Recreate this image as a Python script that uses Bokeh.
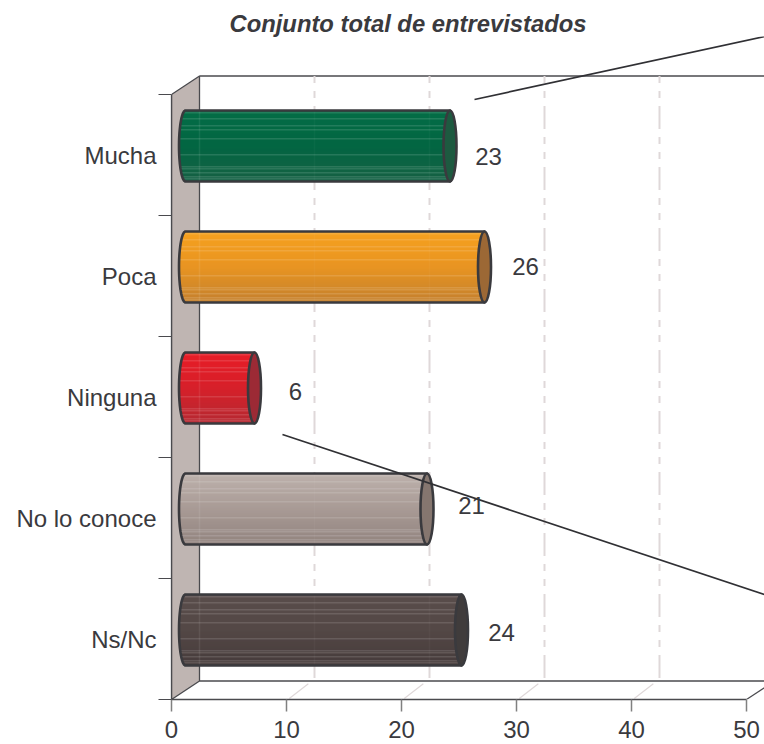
import numpy as np
from bokeh.plotting import figure
from bokeh.models import FixedTicker, LinearAxis, Range1d, ColumnDataSource
from bokeh.core.properties import value
from bokeh.embed import file_html
from bokeh.resources import INLINE

# --- data ---
categories = ["Ns/Nc", "No lo conoce", "Ninguna", "Poca", "Mucha"]
values = [24, 21, 6, 26, 23]
x_ticks = [0, 10, 20, 30, 40, 50]
title_text = "Conjunto total de entrevistados"

# --- style ---
top_colors = [(92, 80, 78), (196, 185, 180), (238, 28, 38), (250, 165, 30), (5, 112, 72)]
mid_colors = [(84, 72, 70), (168, 154, 149), (214, 32, 42), (232, 148, 34), (2, 102, 66)]
bot_colors = [(66, 56, 56), (138, 124, 120), (170, 44, 52), (184, 122, 50), (30, 96, 70)]
cap_colors = ["#403c3c", "#85766f", "#9c2a35", "#9c6835", "#1d5a40"]
label_dx_px = [40, 44.5, 41, 41, 38.5]
label_dy_px = [-2.5, 3.5, -3.5, 0.5, -10.5]
highlight = [.04, .12, .22, .28, .40, .62, .79, .83, .88, .93, .97]

PX_X = 11.5      # px per x unit
PX_Y = 121.0     # px per category
DEPTH_X = 28 / PX_X
DEPTH_Y = 18.5 / PX_Y
INK = "#3a3a3e"
FONT = "Liberation Sans"
WALL = "#bfb5b2"
GRID = "#dfd8d9"

W, H = 764, 744
FRAME_L, FRAME_B = 171, 45
FRAME_T = 36

p = figure(width=W, height=H, output_backend="svg", toolbar_location=None,
           x_range=Range1d(0, (W - FRAME_L) / PX_X),
           y_range=Range1d(0, (H - FRAME_B - FRAME_T) / PX_Y),
           x_axis_type=None, y_axis_type=None,
           min_border_left=FRAME_L, min_border_right=0,
           min_border_top=FRAME_T, min_border_bottom=FRAME_B)
p.outline_line_color = None
p.grid.visible = False
p.background_fill_color = "white"

# title
p.title.text = title_text
p.title.align = "left"
p.title.offset = 58
p.title.text_font = FONT
p.title.text_font_size = "23.8px"
p.title.text_font_style = "bold italic"
p.title.text_color = INK
p.title.standoff = 0

n = len(categories)
xmax = x_ticks[-1]

# left wall + back frame
p.patch([0, DEPTH_X, DEPTH_X, 0], [n, n + DEPTH_Y, DEPTH_Y, 0],
        fill_color=WALL, line_color="#4a4a4e", line_width=1.3)
xr_end = p.x_range.end
p.segment([DEPTH_X, DEPTH_X], [n + DEPTH_Y, DEPTH_Y], [xr_end, xr_end], [n + DEPTH_Y, DEPTH_Y],
          line_color="#4a4a4e", line_width=1.3)

# back gridlines and floor marks
gx = np.array(x_ticks[1:-1], dtype=float)
p.segment(gx + DEPTH_X, [n + DEPTH_Y] * len(gx), gx + DEPTH_X, [DEPTH_Y] * len(gx),
          line_color=GRID, line_width=2, line_dash="7 8 7 8 23 8")
p.segment(gx + DEPTH_X * .1, [DEPTH_Y * .05] * len(gx), gx + DEPTH_X * .78, [DEPTH_Y * .85] * len(gx),
          line_color=GRID, line_width=1.2)
p.segment([xmax], [0], [xr_end], [(xr_end - xmax) / DEPTH_X * DEPTH_Y], line_color="#4a4a4e", line_width=1.2)

# cylinders
ROWS = 71
half_h = ROWS / 2 / PX_Y
a = 6.5 / PX_X
theta = np.linspace(-np.pi / 2, np.pi / 2, 40)
for i, v in enumerate(values):
    cy = i + 0.5 + 9 / PX_Y
    x0 = 14 / PX_X
    x1 = x0 + v
    t = np.arange(ROWS) / ROWS          # from top down
    tm = (t + .5 / ROWS)
    rel = np.abs(2 * tm - 1)
    left = x0 - a * np.sqrt(np.clip(1 - rel ** 2, 0, 1))
    right = np.full(ROWS, x1)
    tops = cy + half_h - t * ROWS / PX_Y
    bots = tops - 1.0 / PX_Y
    hi_rows = {int(h * ROWS) for h in highlight}
    cols = []
    for r in range(ROWS):
        f = tm[r]
        if f < .5:
            c = np.array(top_colors[i]) + (np.array(mid_colors[i]) - np.array(top_colors[i])) * (f / .5)
        else:
            c = np.array(mid_colors[i]) + (np.array(bot_colors[i]) - np.array(mid_colors[i])) * ((f - .5) / .5)
        if r in hi_rows:
            c = c + (255 - c) * .25
        cols.append("#%02x%02x%02x" % tuple(int(round(q)) for q in c))
    ox = np.concatenate([x0 - a * np.cos(theta), [x1, x1]])
    oy = np.concatenate([cy + half_h * np.sin(theta), [cy + half_h, cy - half_h]])
    # opaque body under the stripes, so that no white shows through their seams
    base = "#%02x%02x%02x" % mid_colors[i]
    p.patch(ox, oy, fill_color=base, line_color=None)
    p.quad(left=left, right=right, top=tops, bottom=bots, fill_color=cols, fill_alpha=1.0, line_color=None)
    # wall edge and gridlines seen through the bar
    p.segment([DEPTH_X], [cy + half_h], [DEPTH_X], [cy - half_h], line_color="white", line_alpha=.08, line_width=1.5)
    gv = gx[gx + DEPTH_X < x1]
    p.segment(gv + DEPTH_X, [cy + half_h] * len(gv), gv + DEPTH_X, [cy - half_h] * len(gv),
              line_color="white", line_alpha=.03, line_width=1.5)
    p.patch(ox, oy, fill_color=None, line_color=INK, line_width=2.6, line_join="round")
    p.ellipse([x1], [cy], width=[2 * a], height=[2 * half_h], fill_color=cap_colors[i],
              line_color=INK, line_width=2.6)

# leader lines
leader_x0 = [26.35, 9.65]
leader_y0 = [4.959, 2.19]
leader_x1 = [51.57, 51.57]
leader_y1 = [5.479, 0.868]
p.segment(leader_x0, leader_y0, leader_x1, leader_y1, line_color="#303034", line_width=1.7)

# value labels
lx = [14 / PX_X + v + d / PX_X for v, d in zip(values, label_dx_px)]
ly = [i + 0.5 + 9 / PX_Y + d / PX_Y for i, d in enumerate(label_dy_px)]
src = ColumnDataSource(dict(x=lx, y=ly, t=[str(v) for v in values]))
p.text("x", "y", text="t", source=src, text_align="center", text_baseline="middle",
       text_font=value(FONT), text_font_size="24px", text_color=INK)

# axes
xa = LinearAxis(ticker=FixedTicker(ticks=x_ticks), bounds=(0, xmax))
xa.major_tick_out = 12
xa.major_tick_in = 0
xa.minor_tick_out = 0
xa.minor_tick_in = 0
xa.major_tick_line_color = "#808080"
xa.major_tick_line_width = 1.5
xa.axis_line_color = "#4a4a4e"
xa.axis_line_width = 1.5
xa.major_label_standoff = 9
xa.major_label_text_font = FONT
xa.major_label_text_font_size = "24px"
xa.major_label_text_color = INK
p.add_layout(xa, "below")

centers = [i + .5 for i in range(n)]
ya = LinearAxis(ticker=FixedTicker(ticks=centers, minor_ticks=list(range(n + 1))), bounds=(0, n))
ya.major_label_overrides = {c: l for c, l in zip(centers, categories)}
ya.major_tick_out = 0
ya.major_tick_in = 0
ya.minor_tick_out = 13
ya.minor_tick_in = 0
ya.minor_tick_line_color = "#4a4a4e"
ya.minor_tick_line_width = 1.2
ya.axis_line_color = "#4a4a4e"
ya.axis_line_width = 1.3
ya.major_label_standoff = 2
ya.major_label_text_font = FONT
ya.major_label_text_font_size = "24px"
ya.major_label_text_color = INK
p.add_layout(ya, "left")

open("out.html", "w").write(file_html(p, INLINE))
